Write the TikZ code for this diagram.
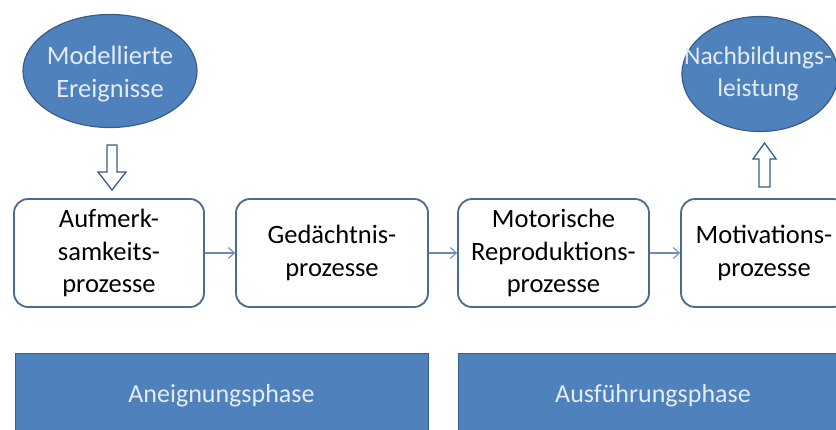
\documentclass[tikz,border=0pt]{standalone}
\usepackage{fontspec}
\setmainfont{Carlito}
\usetikzlibrary{arrows.meta,shapes.geometric}
\definecolor{fillblue}{HTML}{4F81BD}
\definecolor{edgeblue}{HTML}{385D8A}
\definecolor{lighttext}{HTML}{E4ECF6}
\definecolor{boxedge}{HTML}{4A6A90}
\definecolor{linkblue}{HTML}{6A8DBA}
\tikzset{
  x=1pt, y=-1pt,
  procbox/.style={draw=boxedge, line width=1.8pt, rounded corners=14pt, fill=white,
    minimum height=108pt, align=center, font=\fontsize{26.5}{32.5}\selectfont, text=black, inner sep=0pt},
  oval/.style={ellipse, draw=edgeblue, line width=1.2pt, fill=fillblue, inner sep=0pt},
  ovaltext/.style={align=center, font=\fontsize{26.5}{32.5}\selectfont, text=lighttext, inner sep=0pt},
  phasebar/.style={draw=edgeblue, line width=1pt, fill=fillblue, align=center,
    font=\fontsize{26}{30}\selectfont, text=lighttext},
  link/.style={draw=linkblue, line width=1.1pt, -{Straight Barb[length=6pt,width=11pt]}},
  hollow/.style={draw=edgeblue, line width=1.3pt, fill=white, line join=miter}
}
\begin{document}
\begin{tikzpicture}
\useasboundingbox (0,0) rectangle (836,429);
\clip (0,0) rectangle (836,429);
% process boxes
\node[procbox, minimum width=190pt] (b1) at (109,253) {Aufmerk-\\samkeits-\\prozesse};
\node[procbox, minimum width=192pt] (b2) at (332,253) {Gedächtnis-\\prozesse};
\node[procbox, minimum width=191pt] (b3) at (553.5,253) {Motorische\\Reproduktions-\\prozesse};
\node[procbox, minimum width=166pt] (b4) at (764,253) {Motivations-\\prozesse};
% ellipses
\node[oval, minimum width=174pt, minimum height=113pt] (e1) at (110,71) {};
\node[ovaltext] (t1) at (110,74) {Modellierte\\Ereignisse};
\node[oval, minimum width=156pt, minimum height=115pt] (e2) at (760,74) {};
\node[ovaltext, font=\fontsize{25.5}{32.5}\selectfont] (t2) at (758,74) {Nachbildungs-\\leistung};
% phase bars
\node[phasebar, minimum width=413pt, minimum height=86pt] (p1) at (221.5,396) {\raisebox{3pt}{Aneignungsphase}};
\node[phasebar, minimum width=390pt, minimum height=86pt] (p2) at (653,396) {\raisebox{3pt}{Ausführungsphase}};
% connectors
\draw[link] (b1) -- (b2);
\draw[link] (b2) -- (b3);
\draw[link] (b3) -- (b4);
% hollow block arrows
\draw[hollow] (107,145) -- (117,145) -- (117,172) -- (126,172) -- (112,190) -- (98,172) -- (107,172) -- cycle;
\draw[hollow] (759,187) -- (770,187) -- (770,159) -- (776,159) -- (764.5,143) -- (753,159) -- (759,159) -- cycle;
\end{tikzpicture}
\end{document}
